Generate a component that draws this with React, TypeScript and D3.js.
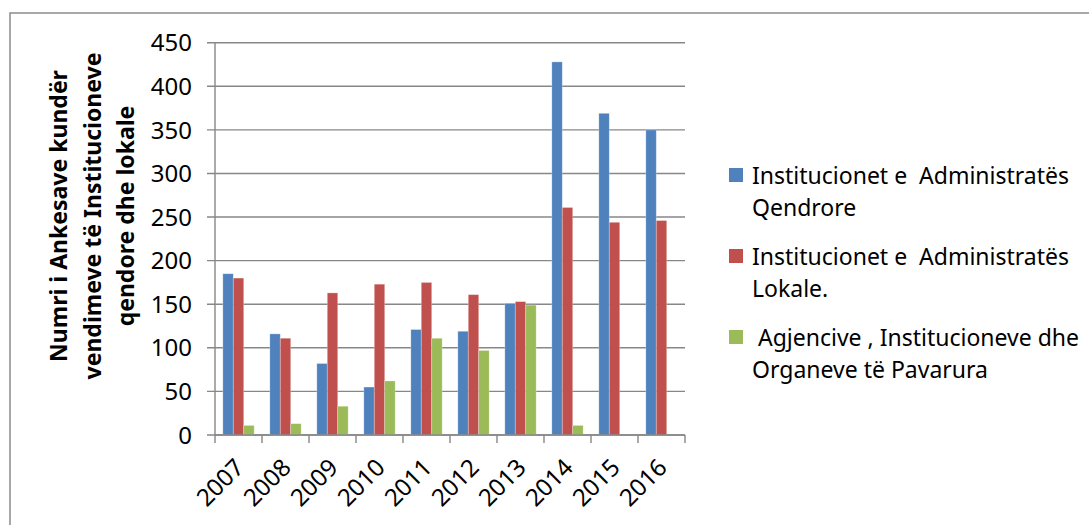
import React from "react";
import * as d3 from "d3";

// Number of appeals per year, grouped by type of institution
const years = ["2007", "2008", "2009", "2010", "2011", "2012", "2013", "2014", "2015", "2016"];
const qendrore = [185, 116, 82, 55, 121, 119, 151, 428, 369, 350];
const lokale = [180, 111, 163, 173, 175, 161, 153, 261, 244, 246];
const pavarura = [11, 13, 33, 62, 111, 97, 149, 11, null, null];
const yTicks = [0, 50, 100, 150, 200, 250, 300, 350, 400, 450];

const seriesNames = [
  ["Institucionet e  Administratës", "Qendrore"],
  ["Institucionet e  Administratës", "Lokale."],
  [" Agjencive , Institucioneve dhe", "Organeve të Pavarura"],
];
const seriesKeys = ["qendrore", "lokale", "pavarura"];
const seriesValues = [qendrore, lokale, pavarura];
const colors = ["#4F81BD", "#C0504D", "#9BBB59"];
const yTitle = ["Numri i Ankesave kundër", "vendimeve të Institucioneve", "qendore dhe lokale"];

const W = 1089;
const H = 525;
const plot = { left: 215, right: 685, top: 42.7, bottom: 435 };
const font = "'Noto Sans', sans-serif";
const gridColor = "#878787";

export default function App() {
  const x0 = d3.scaleBand<string>().domain(years).range([plot.left, plot.right]).padding(0);
  const x1 = d3
    .scaleBand<string>()
    .domain(seriesKeys)
    .range([0, x0.bandwidth()])
    .paddingInner(0)
    .paddingOuter(0.75);
  const y = d3.scaleLinear().domain([0, 450]).range([plot.bottom, plot.top]);

  const catEdges = years.map((yr) => x0(yr) as number).concat([plot.right]);

  return (
    <svg
      width={W}
      height={H}
      style={{ position: "absolute", left: 0, top: 0, background: "#fff" }}
      fontFamily={font}
    >
      <rect x={0} y={0} width={W} height={H} fill="#fff" />
      {/* chart frame */}
      <rect x={10} y={13} width={W + 20} height={H + 20} fill="none" stroke="#8c8c8c" strokeWidth={1.5} />

      {/* gridlines and y ticks */}
      {yTicks.map((t) => (
        <g key={t}>
          <line x1={plot.left - 8} x2={plot.right} y1={y(t)} y2={y(t)} stroke={gridColor} strokeWidth={1.4} />
          <text
            x={192}
            y={y(t)}
            dy="0.36em"
            textAnchor="end"
            fontSize={24}
            fill="#000"
          >
            {t}
          </text>
        </g>
      ))}

      {/* y axis */}
      <line x1={plot.left} x2={plot.left} y1={plot.top} y2={plot.bottom} stroke={gridColor} strokeWidth={1.4} />

      {/* category ticks */}
      {catEdges.map((cx, i) => (
        <line key={i} x1={cx} x2={cx} y1={plot.bottom} y2={plot.bottom + 8} stroke={gridColor} strokeWidth={1.4} />
      ))}

      {/* bars */}
      {years.map((yr, i) => (
        <g key={yr} transform={`translate(${x0(yr)},0)`}>
          {seriesKeys.map((k, s) => {
            const v = seriesValues[s][i];
            if (v == null) return null;
            const bx = x1(k) as number;
            return (
              <rect
                key={k}
                x={bx}
                y={y(v)}
                width={x1.bandwidth()}
                height={y(0) - y(v)}
                fill={colors[s]}
                stroke="#ffffff"
                strokeOpacity={0.35}
                strokeWidth={0.8}
              />
            );
          })}
        </g>
      ))}

      {/* x axis */}
      <line x1={plot.left} x2={plot.right} y1={plot.bottom} y2={plot.bottom} stroke={gridColor} strokeWidth={1.4} />

      {/* x labels */}
      {years.map((yr) => {
        const cx = (x0(yr) as number) + x0.bandwidth() / 2;
        return (
          <text
            key={yr}
            transform={`translate(${cx + 7},${469}) rotate(-45)`}
            textAnchor="end"
            fontSize={24}
            fill="#000"
          >
            {yr}
          </text>
        );
      })}

      {/* y axis title */}
      <g transform="translate(0,216) rotate(-90)">
        {yTitle.map((line, i) => (
          <text
            key={i}
            x={0}
            y={67 + i * 33.5}
            textAnchor="middle"
            fontSize={23}
            fontWeight="bold"
            fill="#000"
          >
            {line}
          </text>
        ))}
      </g>

      {/* legend */}
      {seriesNames.map((lines, s) => {
        const top = 168 + s * 81;
        return (
          <g key={s}>
            <rect x={729} y={top} width={14} height={14} fill={colors[s]} />
            {lines.map((ln, j) => (
              <text
                key={j}
                x={752}
                y={top + 16 + j * 31.7}
                fontSize={23}
                fill="#000"
                style={{ whiteSpace: "pre" }}
              >
                {ln}
              </text>
            ))}
          </g>
        );
      })}
    </svg>
  );
}
